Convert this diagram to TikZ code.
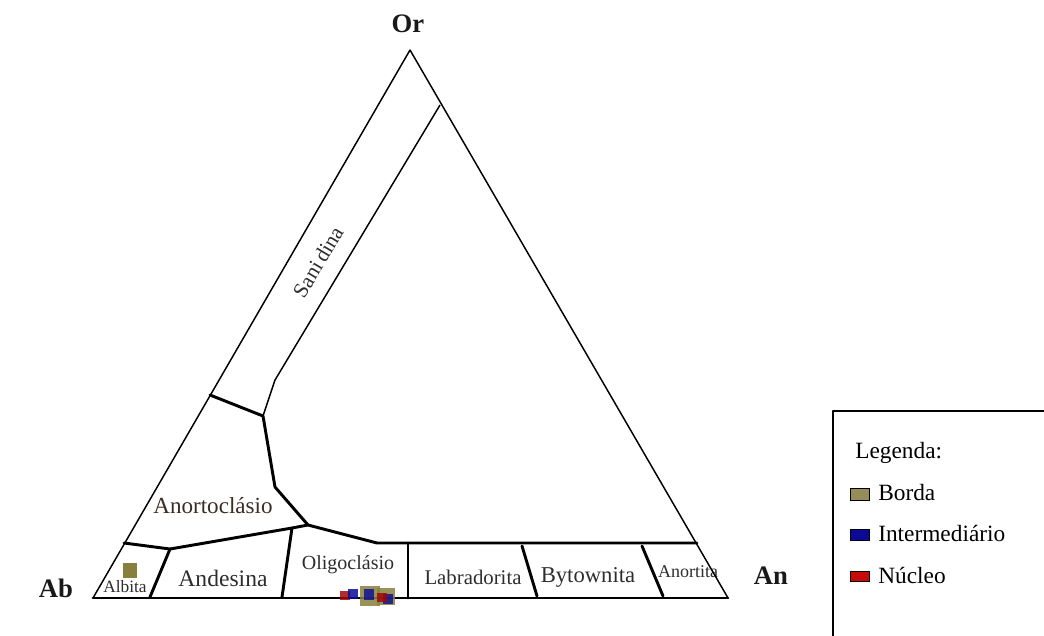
\documentclass[tikz,border=0pt]{standalone}
\usepackage{fontspec}
\setmainfont{Liberation Serif}
\definecolor{olivebox}{RGB}{150,140,88}
\definecolor{olivept}{RGB}{135,128,60}
\definecolor{bluebox}{RGB}{10,10,150}
\definecolor{redbox}{RGB}{200,10,10}
\definecolor{labelgray}{RGB}{45,45,45}
\definecolor{labelbrown}{RGB}{60,45,35}
\newcommand{\fs}[1]{\fontsize{#1}{#1}\selectfont}
\begin{document}
\begin{tikzpicture}[x=0.75pt,y=-0.75pt,
  edge/.style={line width=1.1pt,line join=round},
  fieldline/.style={line width=2.2pt,line join=round,line cap=round},
  field/.style={inner sep=0pt,text=labelgray},
  apex/.style={inner sep=0pt,font=\fs{20}\bfseries,text=black!90},
  legtext/.style={inner sep=0pt,anchor=west,font=\fs{17.5}},
  legsq/.style={draw=black,line width=0.9pt},
  pt/.style={inner sep=0pt,minimum width=#1,minimum height=#1}]
\useasboundingbox (0,0) rectangle (1044,635);

% triangle vertices
\coordinate (Or) at (410,50);
\coordinate (Ab) at (93,598);
\coordinate (An) at (728,598);

% field names (set first so the boundaries run over them)
\node[field,rotate=59,font=\fs{16}] (tsan) at (318,262) {Sani\kern2.5pt dina};
\node[field,text=labelbrown,font=\fs{17.3}] (tano) at (213,506) {Anortoclásio};
\node[field,font=\fs{13}] (talb) at (125,587) {Albita};
\node[field,font=\fs{17.7}] (tand) at (223,578) {Andesina};
\node[field,font=\fs{15}] (toli) at (348,565) {Oligoclásio};
\node[field,font=\fs{15.6}] (tlab) at (473,577) {Labradorita};
\node[field,font=\fs{17}] (tbyt) at (588,577) {Bytownita};
\node[field,font=\fs{13.5}] (tant) at (688,572) {Anortita};

\draw[edge] (Ab) -- (Or) -- (An) -- cycle;

% sanidine field boundary
\coordinate (s1) at (440,105);
\coordinate (s2) at (275,380);
\coordinate (j1) at (263,416);
\draw[edge] (s1) -- (s2) -- (j1);

% anorthoclase field
\coordinate (l1) at (210,395);
\coordinate (j2) at (308,525);
\draw[fieldline] (l1) -- (j1) -- (275,487) -- (j2);

% plagioclase band
\coordinate (b0) at (124,543);
\coordinate (b1) at (170,549);
\coordinate (b2) at (292,528);
\coordinate (b3) at (377,543);
\coordinate (b4) at (697,543);
\draw[fieldline] (b0) -- (b1) -- (b2) -- (j2) -- (b3) -- (b4);
\draw[fieldline] (b1) -- (150,597);
\draw[fieldline] (b2) -- (282,597);
\draw[fieldline] (408,543) -- (408,598);
\draw[fieldline] (522,546) -- (537,596);
\draw[fieldline] (642,546) -- (663,596);
\draw[fieldline] (Ab) -- (An);

% apex labels
\node[apex] (tOr) at (408,24) {Or};
\node[apex] (tAb) at (56,588) {Ab};
\node[apex] (tAn) at (771,576) {An};

% analyses
\node[pt=11pt,fill=olivept] (a0) at (130,570.5) {};
\node[pt=15pt,fill=olivept,opacity=0.85] (p1) at (369.5,596) {};
\node[pt=13pt,fill=olivept,opacity=0.85] (p2) at (386,596.5) {};
\node[pt=7pt,fill=redbox!80!black,opacity=0.85] (p3) at (345,595.5) {};
\node[pt=8pt,fill=bluebox,opacity=0.85] (p4) at (353,594) {};
\node[pt=8pt,fill=bluebox,opacity=0.8] (p5) at (369,594.5) {};
\node[pt=7pt,fill=bluebox,opacity=0.8] (p6) at (388,599) {};
\node[pt=7pt,fill=redbox!80!black,opacity=0.85] (p7) at (382,597.5) {};

% legend
\draw[edge] (833,640) -- (833,411) -- (1050,411);
\node[legtext] (lg) at (855,453) {Legenda:};
\node[legsq,fill=olivebox,minimum width=14pt,minimum height=9pt,inner sep=0pt] (q1) at (860,494.5) {};
\node[legtext] (l1t) at (878,493) {Borda};
\node[legsq,fill=bluebox,minimum width=14pt,minimum height=8pt,inner sep=0pt] (q2) at (860,535) {};
\node[legtext] (l2t) at (878,533) {Intermediário};
\node[legsq,fill=redbox,minimum width=14pt,minimum height=8pt,inner sep=0pt] (q3) at (860,576.5) {};
\node[legtext] (l3t) at (878,575) {Núcleo};
\end{tikzpicture}
\end{document}
